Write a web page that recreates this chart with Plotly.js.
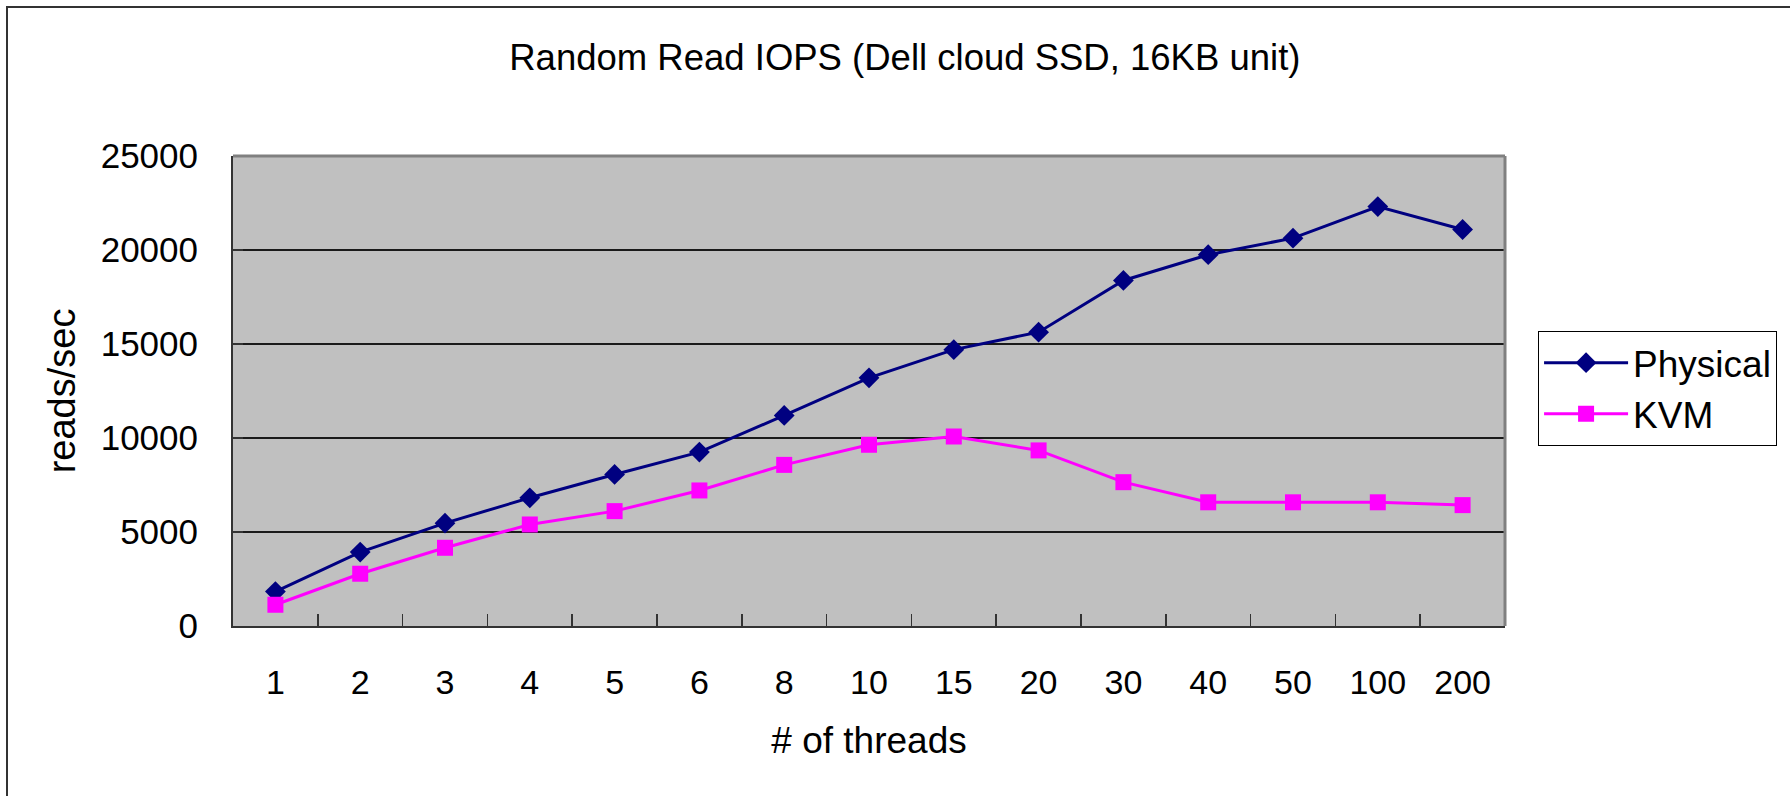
<!DOCTYPE html>
<html>
<head>
<meta charset="utf-8">
<script src="https://cdn.plot.ly/plotly-3.0.1.min.js"></script>
<style>
  html, body { margin: 0; padding: 0; background: #ffffff; }
  #wrap { position: relative; width: 1790px; height: 796px; overflow: hidden; }
  #chart { position: absolute; left: 0; top: 0; width: 1790px; height: 796px; }
  #frame { position: absolute; left: 6px; top: 6px; width: 1800px; height: 800px;
           border-left: 2px solid #333333; border-top: 2px solid #333333; pointer-events: none; }
</style>
</head>
<body>
<div id="wrap">
  <div id="chart"></div>
  <div id="frame"></div>
</div>
<script>
// ---- data ----
const threads = ["1", "2", "3", "4", "5", "6", "8", "10", "15", "20", "30", "40", "50", "100", "200"];
const physical = [1830, 3930, 5470, 6820, 8060, 9250, 11200, 13200, 14700, 15630, 18380, 19750, 20630, 22310, 21090];
const kvm = [1130, 2780, 4160, 5400, 6110, 7210, 8570, 9640, 10080, 9340, 7650, 6580, 6580, 6580, 6430];
const yTicks = [0, 5000, 10000, 15000, 20000, 25000];

const FONT = "Liberation Sans, Arial, sans-serif";

const traces = [
  {
    name: "Physical", x: threads, y: physical, type: "scatter", mode: "lines+markers",
    line: { color: "#000080", width: 3 },
    marker: { symbol: "diamond", size: 16, color: "#000080" }
  },
  {
    name: "KVM", x: threads, y: kvm, type: "scatter", mode: "lines+markers",
    line: { color: "#FF00FF", width: 3 },
    marker: { symbol: "square", size: 16, color: "#FF00FF" }
  }
];

const layout = {
  width: 1790, height: 796,
  paper_bgcolor: "#ffffff",
  plot_bgcolor: "#C0C0C0",
  margin: { l: 233, r: 285, t: 156, b: 170, pad: 0 },
  font: { family: FONT, size: 34, color: "#000000" },
  title: {
    text: "Random Read IOPS (Dell cloud SSD, 16KB unit)",
    font: { family: FONT, size: 36.5, color: "#000000" },
    x: 0.5055, xanchor: "center", y: 0.928, yanchor: "middle"
  },
  showlegend: true,
  legend: {
    x: 1.026, xanchor: "left", y: 0.505, yanchor: "middle",
    bgcolor: "#ffffff", bordercolor: "#000000", borderwidth: 1,
    font: { family: FONT, size: 37, color: "#000000" },
    itemwidth: 84
  },
  xaxis: {
    type: "category",
    categoryorder: "array", categoryarray: threads,
    range: [-0.5, threads.length - 0.5],
    title: { text: "# of threads", font: { family: FONT, size: 37 }, standoff: 27 },
    tickfont: { family: FONT, size: 34 },
    ticks: "inside", ticklen: 12, tickwidth: 1.5, tickcolor: "#333333",
    tickson: "boundaries",
    ticklabelstandoff: 25,
    showgrid: false,
    showline: true, linecolor: "#333333", linewidth: 2, mirror: false,
    zeroline: false, fixedrange: true
  },
  yaxis: {
    range: [0, 25000],
    tickvals: yTicks,
    ticktext: yTicks.map(String),
    title: { text: "reads/sec", font: { family: FONT, size: 38 }, standoff: 13 },
    tickfont: { family: FONT, size: 35 },
    ticks: "inside", ticklen: 10, tickwidth: 1.5, tickcolor: "#333333",
    ticklabelstandoff: 26,
    showgrid: true, gridcolor: "#1a1a1a", gridwidth: 1.2,
    showline: true, linecolor: "#333333", linewidth: 2,
    zeroline: false, fixedrange: true
  },
  shapes: [
    { type: "line", xref: "paper", yref: "paper", x0: 0, x1: 1, y0: 1, y1: 1,
      line: { color: "#808080", width: 3 } },
    { type: "line", xref: "paper", yref: "paper", x0: 1, x1: 1, y0: 0, y1: 1,
      line: { color: "#808080", width: 3 } }
  ]
};

Plotly.newPlot("chart", traces, layout, { staticPlot: true, displayModeBar: false });
</script>
</body>
</html>
